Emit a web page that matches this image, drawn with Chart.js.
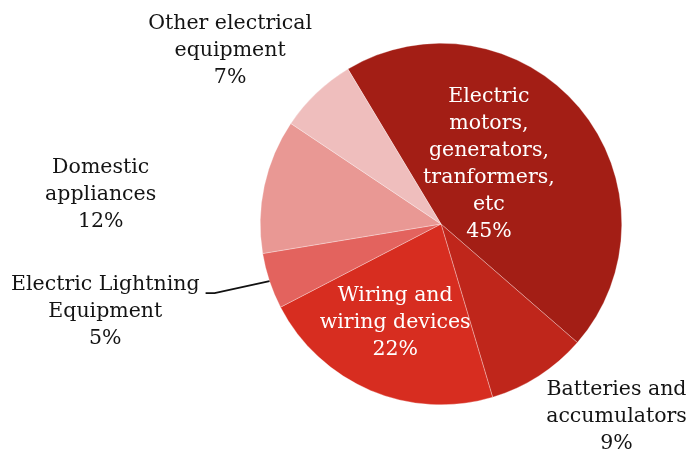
<!DOCTYPE html>
<html>
<head>
<meta charset="utf-8">
<script src="https://cdn.jsdelivr.net/npm/chart.js@4.4.1/dist/chart.umd.min.js"></script>
<style>
  html, body { margin: 0; padding: 0; background: #ffffff; }
  #wrap { width: 686px; height: 455px; }
</style>
</head>
<body>
<div id="wrap"><canvas id="pie" width="686" height="455"></canvas></div>
<script>
// Share of electrical equipment production by segment (%)
const categories = [
  ['Electric', 'motors,', 'generators,', 'tranformers,', 'etc'],
  ['Batteries and', 'accumulators'],
  ['Wiring and', 'wiring devices'],
  ['Electric Lightning', 'Equipment'],
  ['Domestic', 'appliances'],
  ['Other electrical', 'equipment']
];
const shares = [45, 9, 22, 5, 12, 7];
const sliceColors = ['#a31e15', '#bf261b', '#d72d20', '#e3635e', '#e99894', '#efbebd'];

// Label placement: polar position (fraction of radius, angle in degrees clockwise from top),
// whether the text sits on the slice, and whether a leader line is drawn.
const labelLayout = [
  { r: 0.424, a: 38.7, inside: true },
  { r: 1.44, a: 137.6 },
  { r: 0.60, a: 205, inside: true },
  { r: 1.92, a: 255.3, leader: true },
  { r: 1.89, a: 275 },
  { r: 1.51, a: 309.4 }
];

const FONT = '20.5px "DejaVu Serif", Georgia, serif';
const LINE_H = 27;

const sliceLabels = {
  id: 'sliceLabels',
  afterDatasetsDraw(chart) {
    const ctx = chart.ctx;
    const arcs = chart.getDatasetMeta(0).data;
    ctx.save();
    ctx.font = FONT;
    ctx.textAlign = 'center';
    ctx.textBaseline = 'middle';
    arcs.forEach((arc, i) => {
      const { x, y, outerRadius } = arc.getProps(['x', 'y', 'outerRadius'], true);
      const lay = labelLayout[i];
      const ang = lay.a * Math.PI / 180;
      const cx = x + Math.sin(ang) * outerRadius * lay.r;
      const cy = y - Math.cos(ang) * outerRadius * lay.r;
      const lines = categories[i].concat([shares[i] + '%']);
      const top = cy - (lines.length - 1) * LINE_H / 2;
      ctx.fillStyle = lay.inside ? '#ffffff' : '#141414';
      lines.forEach((t, k) => ctx.fillText(t, cx, top + k * LINE_H));

      if (lay.leader) {
        // leader from the slice's outer mid-point to the end of the first text line
        const { startAngle, endAngle } = arc.getProps(['startAngle', 'endAngle'], true);
        const mid = (startAngle + endAngle) / 2;
        const px = x + Math.cos(mid) * outerRadius;
        const py = y + Math.sin(mid) * outerRadius;
        const w = ctx.measureText(lines[0]).width;
        const tx = cx + w / 2 + 6;
        const ty = top + 8;
        ctx.strokeStyle = '#111111';
        ctx.lineWidth = 1.8;
        ctx.beginPath();
        ctx.moveTo(px, py);
        ctx.lineTo(tx + 9, ty);
        ctx.lineTo(tx, ty);
        ctx.stroke();
      }
    });
    ctx.restore();
  }
};

new Chart(document.getElementById('pie'), {
  type: 'pie',
  data: {
    labels: categories.map(c => c.join(' ')),
    datasets: [{
      data: shares,
      backgroundColor: sliceColors,
      borderColor: 'rgba(255,255,255,0.6)',
      borderWidth: 0.5
    }]
  },
  options: {
    responsive: false,
    animation: false,
    rotation: -31,
    layout: { padding: { left: 260, right: 64, top: 43, bottom: 50 } },
    plugins: {
      legend: { display: false },
      tooltip: { enabled: false }
    }
  },
  plugins: [sliceLabels]
});
</script>
</body>
</html>
